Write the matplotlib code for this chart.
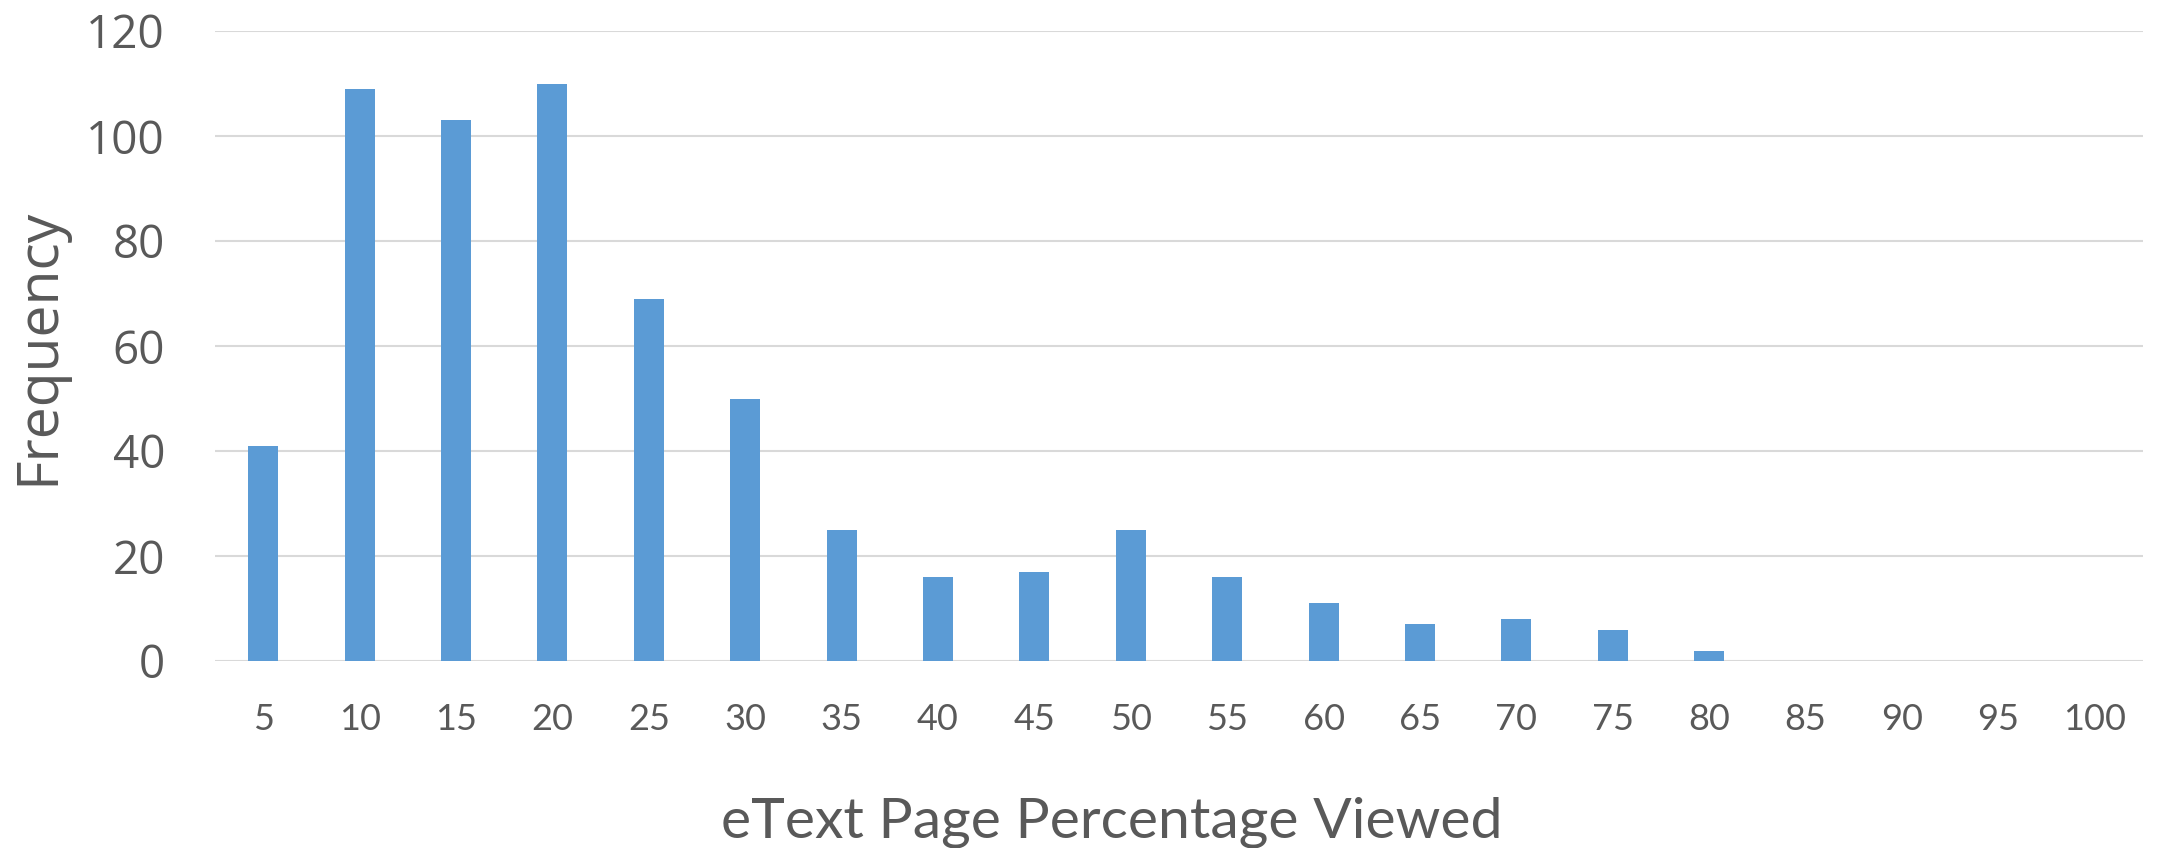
import matplotlib
matplotlib.use("Agg")
import matplotlib.pyplot as plt

# Histogram of how much of the eText each reader viewed
bins = ["5", "10", "15", "20", "25", "30", "35", "40", "45", "50",
        "55", "60", "65", "70", "75", "80", "85", "90", "95", "100"]
frequency = [41, 109, 103, 110, 69, 50, 25, 16, 17, 25,
             16, 11, 7, 8, 6, 2, 0, 0, 0, 0]
y_ticks = [0, 20, 40, 60, 80, 100, 120]

W, H, DPI = 2157, 848, 100
fig = plt.figure(figsize=(W / DPI, H / DPI), dpi=DPI)
fig.patch.set_facecolor("white")

left, right, top, bottom = 215, 2143, 31, 661
ax = fig.add_axes([left / W, (H - bottom) / H, (right - left) / W, (bottom - top) / H])

text_color = "#595959"
grid_color = "#D9D9D9"
bar_color = "#5B9BD5"

x = list(range(len(bins)))
ax.bar(x, frequency, width=0.31, color=bar_color, zorder=3)

ax.set_xlim(-0.5, len(bins) - 0.5)
ax.set_ylim(0, 120)
ax.set_yticks(y_ticks)
ax.set_yticklabels([str(v) for v in y_ticks], fontfamily="Open Sans",
                   fontsize=33, color=text_color)
ax.set_xticks(x)
ax.set_xticklabels(bins, fontfamily="Lato", fontsize=26, color=text_color)

ax.tick_params(axis="y", length=0, pad=36)
ax.tick_params(axis="x", length=0, pad=30)

ax.grid(axis="y", color=grid_color, linewidth=1.5, zorder=0)
for s in ax.spines.values():
    s.set_visible(False)

ax.set_ylabel("Frequency", fontfamily="Open Sans", fontsize=41,
              color=text_color, labelpad=0)
ax.yaxis.set_label_coords(-148 / (right - left), 0.5)

fig.text(1112 / W, 1 - 837 / H, "eText Page Percentage Viewed",
         fontfamily="Lato", fontsize=41, color=text_color,
         ha="center", va="baseline")

fig.savefig("out.png", dpi=DPI, facecolor="white")
